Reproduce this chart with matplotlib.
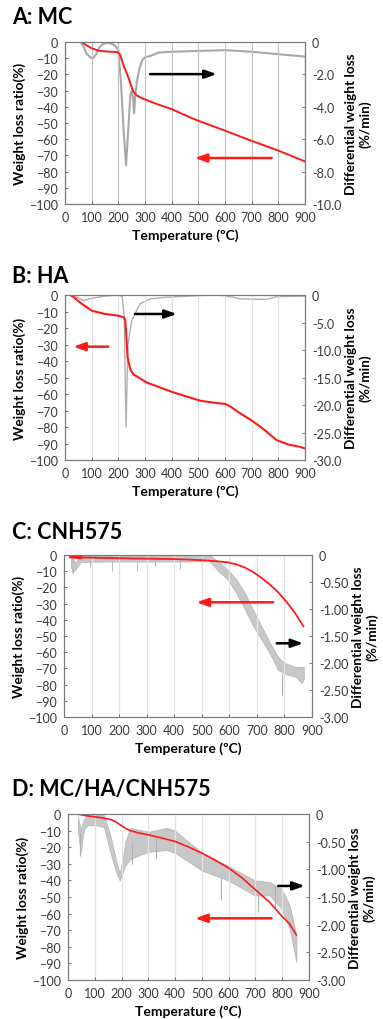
import matplotlib.pyplot as plt
import numpy as np

plt.rcParams['font.family'] = ['Lato', 'DejaVu Sans']

# ---- A: MC ----
a_tg_x = [63, 80, 100, 125, 150, 180, 198, 207, 215, 223, 231, 240, 248, 256, 268, 280, 293,
          350, 400, 469, 500, 600, 700, 800, 900]
a_tg_y = [0, -2, -3.8, -5.3, -5.8, -6, -6.3, -8, -12, -16, -19, -23, -27, -30.5, -32.8, -34, -35,
          -38.6, -41.4, -46.5, -48.6, -54.7, -61, -67, -73.7]
a_dtg_x = [60, 70, 80, 95, 105, 115, 130, 145, 160, 175, 190, 200, 210, 220, 229, 237, 245, 250,
           255, 259, 264, 272, 280, 290, 300, 330, 350, 400, 500, 600, 700, 800, 900]
a_dtg_y = [0, -0.3, -0.7, -0.95, -1.0, -0.8, -0.3, -0.1, -0.05, -0.1, -0.25, -0.5, -2.5, -5.5, -7.6,
           -5.5, -3.3, -3.0, -3.4, -4.4, -3.2, -2.2, -1.6, -1.1, -0.95, -0.8, -0.65, -0.6, -0.55,
           -0.5, -0.6, -0.75, -0.9]

# ---- B: HA ----
b_tg_x = [19, 30, 60, 100, 150, 200, 220, 226, 230, 235, 245, 256, 306, 406, 506, 560, 600, 620,
          650, 700, 750, 794, 840, 881, 900]
b_tg_y = [0, -1, -5, -9.5, -11.5, -12.5, -13.5, -15, -25, -38, -45, -48, -53, -59, -64, -65.3,
          -66, -67.5, -71, -76, -82, -88, -90.7, -92, -93]
b_dtg_x = [30, 50, 69, 100, 150, 200, 215, 222, 229, 236, 250, 281, 319, 381, 506, 581, 631, 656,
           756, 794, 900]
b_dtg_y = [0, -0.5, -1.0, -0.6, -0.2, 0, -0.3, -4, -24, -9, -4.7, -1.6, -0.7, -0.4, -0.1, 0, -0.4,
           -0.7, -0.8, -0.3, -0.2]

# ---- C: CNH575 ----
c_tg_x = [25, 60, 200, 400, 500, 550, 594, 625, 655, 685, 716, 747, 777, 808, 839, 869]
c_tg_y = [-1, -1.5, -2, -2.5, -3.2, -3.8, -4.5, -5.8, -7.6, -10.4, -14, -18.2, -23, -29, -36, -44]
c_dtg_x = [25, 30, 40, 60, 150, 300, 450, 520, 533, 560, 594, 625, 655, 685, 716, 750, 777, 800,
           839, 863, 870]
c_dtg_hi = [0, -0.03, -0.15, -0.02, -0.015, -0.015, -0.01, 0, -0.02, -0.12, -0.27, -0.45, -0.69,
            -1.0, -1.32, -1.65, -1.89, -2.0, -2.07, -2.07, -2.07]
c_dtg_lo = [-0.2, -0.32, -0.28, -0.13, -0.12, -0.12, -0.12, -0.1, -0.14, -0.3, -0.45, -0.7, -0.99,
            -1.3, -1.56, -1.85, -2.13, -2.2, -2.25, -2.37, -2.3]
c_spike_x = [33, 95, 175, 265, 330, 420, 791]
c_spike_y = [-0.35, -0.22, -0.3, -0.3, -0.2, -0.25, -2.6]

# ---- D: MC/HA/CNH575 ----
d_tg_x = [37, 60, 97, 130, 159, 178, 196, 215, 233, 265, 301, 350, 400, 450, 500, 550, 599, 650,
          698, 754, 797, 828, 853]
d_tg_y = [0, -0.8, -1.6, -2.3, -3.2, -4.6, -6.6, -8.6, -10, -11.4, -12.5, -14.4, -16.5, -19.8,
          -23.5, -27.8, -32.4, -38.4, -45.3, -53.3, -61.2, -66.2, -72.8]
d_dtg_x = [37, 47, 60, 72, 100, 134, 159, 180, 193, 205, 214, 233, 301, 369, 400, 500, 599, 698,
           754, 797, 828, 853]
d_dtg_hi = [-0.05, -0.28, -0.09, -0.02, -0.02, -0.02, -0.4, -0.85, -1.08, -0.8, -0.5, -0.25, -0.32,
            -0.25, -0.3, -0.7, -0.94, -1.2, -1.23, -1.35, -1.65, -2.2]
d_dtg_lo = [-0.28, -0.7, -0.27, -0.2, -0.2, -0.23, -0.7, -1.05, -1.2, -1.05, -0.93, -0.81, -0.68,
            -0.65, -0.7, -1.02, -1.2, -1.47, -1.47, -1.71, -2.07, -2.67]
d_spike_x = [45, 240, 330, 571, 710, 775]
d_spike_y = [-0.75, -0.9, -0.8, -1.56, -1.77, -1.7]

temp_ticks = np.arange(0, 1000, 100)
left_ticks = np.arange(-100, 10, 10)

fig = plt.figure(figsize=(3.83, 10.2), dpi=100)

panels = [
    ('A: MC', [0.1697, 0.799, 0.6266, 0.1588], 0.9824, -10, [0, -2, -4, -6, -8, -10], '%.1f', '#c4c4c4'),
    ('B: HA', [0.1697, 0.548, 0.6266, 0.1618], 0.7294, -30, [0, -5, -10, -15, -20, -25, -30], '%.1f', '#e2e2e2'),
    ('C: CNH575', [0.1671, 0.2961, 0.6475, 0.1588], 0.4784, -3, [0, -0.5, -1, -1.5, -2, -2.5, -3], '%.2f', '#e2e2e2'),
    ('D: MC/HA/CNH575', [0.1775, 0.0382, 0.6292, 0.1627], 0.2255, -3, [0, -0.5, -1, -1.5, -2, -2.5, -3], '%.2f', '#e2e2e2'),
]

axes = []
for title, rect, ty, rmin, rticks, fmt, gcol in panels:
    ax = fig.add_axes(rect)
    ax2 = ax.twinx()
    ax.set_xlim(0, 900)
    ax.set_ylim(-100, 0)
    ax2.set_ylim(rmin, 0)
    ax.set_xticks(temp_ticks)
    ax.set_yticks(left_ticks)
    ax2.set_yticks(rticks)
    ax2.set_yticklabels(['0'] + [fmt % v for v in rticks[1:]])
    for a in (ax, ax2):
        a.tick_params(direction='in', length=2.5, width=0.6, color='#606060',
                      labelsize=9, labelcolor='#3a3a3a', pad=5)
        for s in a.spines.values():
            s.set_color('#7a7a7a')
            s.set_linewidth(0.8)
    ax.tick_params(axis='x', pad=5)
    ax.grid(axis='x', color=gcol, lw=0.9)
    ax.set_axisbelow(True)
    ax.set_xlabel('Temperature (ºC)', fontsize=10, fontweight='bold', labelpad=4)
    ax.set_ylabel('Weight loss ratio(%)', fontsize=9.8, fontweight='bold', labelpad=2)
    ax2.set_ylabel('Differential weight loss\n(%/min)', fontsize=9.8, fontweight='bold',
                   labelpad=3, linespacing=1.1)
    ax.set_zorder(ax2.get_zorder() + 1)
    ax.patch.set_visible(False)
    fig.text(0.031, ty, title, fontsize=15.5, fontweight='bold', va='center', ha='left')
    axes.append((ax, ax2))


def arrow(ax, x0, x1, y, col):
    ax.annotate('', xy=(x1, y), xytext=(x0, y),
                arrowprops=dict(arrowstyle='-|>,head_length=0.7,head_width=0.25', color=col,
                                lw=1.8, shrinkA=0, shrinkB=0))


# A
ax, ax2 = axes[0]
ax2.plot(a_dtg_x, a_dtg_y, color='#a8a8a8', lw=1.5)
ax.plot(a_tg_x, a_tg_y, color='#ff1a1a', lw=1.4)
arrow(ax, 319, 569, -19.8, 'black')
arrow(ax, 775, 487, -71.6, '#ff1a1a')

# B
ax, ax2 = axes[1]
ax2.plot(b_dtg_x, b_dtg_y, color='#b0b0b0', lw=1.0)
ax.plot(b_tg_x, b_tg_y, color='#ff1a1a', lw=1.5)
arrow(ax, 262, 419, -11.5, 'black')
arrow(ax, 162, 31, -31.3, '#ff1a1a')

# C
ax, ax2 = axes[2]
ax2.fill_between(c_dtg_x, c_dtg_lo, c_dtg_hi, color='#c8c8c8', lw=0.6, edgecolor='#b8b8b8')
ax2.vlines(c_spike_x[:-1], -0.06, c_spike_y[:-1], color='#bcbcbc', lw=0.8)
ax2.vlines(c_spike_x[-1], -2.2, c_spike_y[-1], color='#b0b0b0', lw=0.8)
ax.plot(c_tg_x, c_tg_y, color='#ff1a1a', lw=1.3)
ax.plot(c_tg_x[:2], c_tg_y[:2], color='#ff1a1a', lw=2.5)
arrow(ax, 759, 481, -29.2, '#ff1a1a')
arrow(ax, 772, 868, -54.5, 'black')

# D
ax, ax2 = axes[3]
ax2.fill_between(d_dtg_x, d_dtg_lo, d_dtg_hi, color='#c8c8c8', lw=0.6, edgecolor='#b8b8b8')
ax2.vlines(d_spike_x, [h + 0.4 for h in d_spike_y], d_spike_y, color='#b0b0b0', lw=0.8)
ax.plot(d_tg_x, d_tg_y, color='#ff1a1a', lw=1.2)
arrow(ax, 785, 884, -43.3, 'black')
arrow(ax, 760, 475, -62.8, '#ff1a1a')

fig.savefig('out.png', dpi=100)
